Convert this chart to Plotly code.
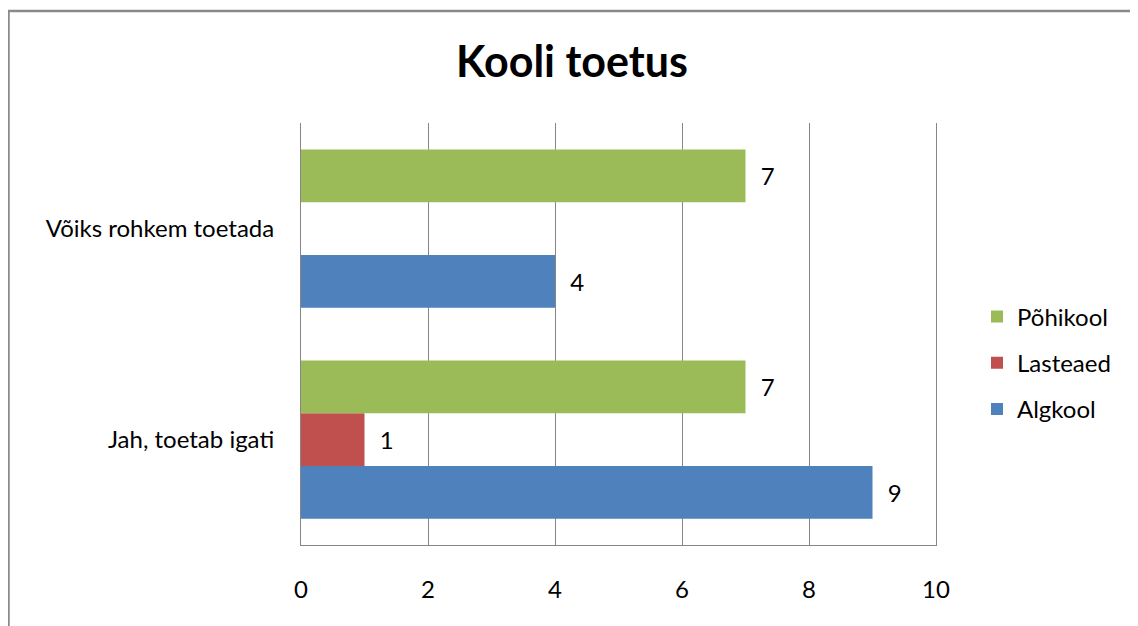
import plotly.graph_objects as go

categories = ['Jah, toetab igati', 'Võiks rohkem toetada']
algkool = [9, 4]
lasteaed = [1, None]
pohikool = [7, 7]

series = [
    ('Algkool', algkool, '#4F81BD', 3),
    ('Lasteaed', lasteaed, '#C0504D', 2),
    ('Põhikool', pohikool, '#9BBB59', 1),
]

FONT = 'Lato, Calibri, sans-serif'
FS = 24
# the page body has an 8px margin, so pixel positions below are page minus 8
W, H = 1138, 626
L, R, T, B = 293, 210, 115, 89
pw, ph = W - L - R, H - T - B

fig = go.Figure()
for name, vals, col, rank in series:
    fig.add_trace(go.Bar(
        name=name, y=categories, x=vals, orientation='h',
        marker_color=col, marker_line_width=0,
        text=vals, texttemplate='\u00a0\u00a0%{x}', textposition='outside',
        textfont=dict(size=FS, color='#000000', family=FONT),
        cliponaxis=False, legendgroup=name, legendrank=rank,
    ))

# grey frame round the whole chart
fig.add_shape(type='rect', xref='paper', yref='paper',
              x0=(0.5 - L) / pw, x1=(1127 - L) / pw,
              y0=(H - B - 640) / ph, y1=(H - B - 3) / ph,
              line=dict(color='#8a8a8a', width=2.5), layer='below')

fig.update_layout(
    width=W, height=H,
    margin=dict(l=L, r=R, t=T, b=B, autoexpand=False),
    paper_bgcolor='white', plot_bgcolor='white',
    title=dict(text='<b>Kooli toetus</b>', x=564 / W, xanchor='center', y=(H - 54) / H, yanchor='middle',
               font=dict(size=43, color='#000000', family=FONT)),
    barmode='group', bargap=0.25, bargroupgap=0,
    font=dict(family=FONT, size=FS, color='#000000'),
    showlegend=True,
    legend=dict(traceorder='grouped', tracegroupgap=12, x=(969 - L) / pw, xanchor='left',
                y=(H - B - 355) / ph, yanchor='middle', font=dict(size=FS, color='#000000', family=FONT),
                itemwidth=30, bgcolor='rgba(0,0,0,0)'),
    xaxis=dict(range=[0, 10], tickvals=[0, 2, 4, 6, 8, 10], showgrid=True, gridcolor='#868686', gridwidth=1,
               showline=True, linecolor='#868686', linewidth=1, zeroline=False,
               ticks='', ticklabelstandoff=23, tickfont=dict(size=FS, family=FONT)),
    yaxis=dict(showline=True, mirror=True, linecolor='#868686', linewidth=1, showgrid=False,
               ticks='', ticklabelstandoff=21, tickfont=dict(size=FS, family=FONT)),
)

fig.write_html('out.html')
